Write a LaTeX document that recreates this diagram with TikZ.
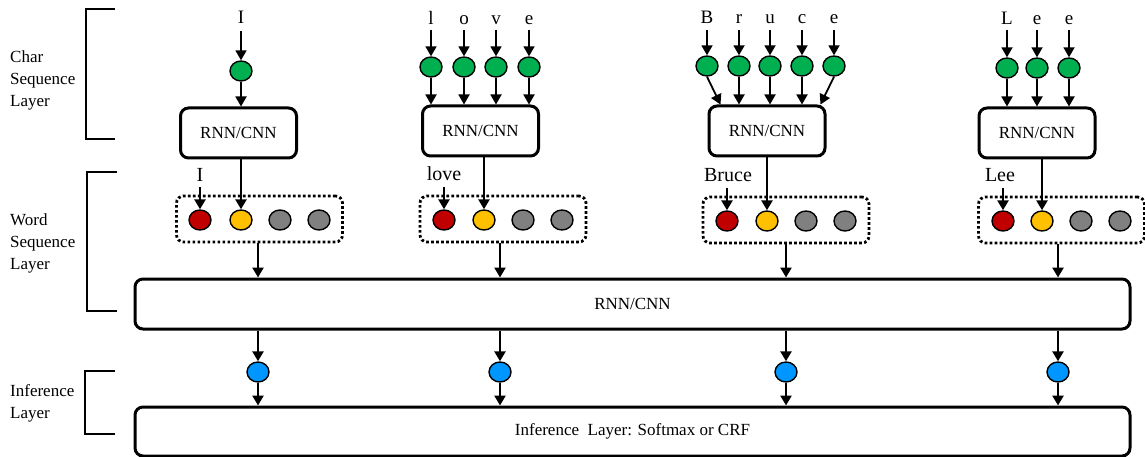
\documentclass[tikz,border=0pt]{standalone}
\usepackage{fontspec}
\setmainfont{Liberation Serif}
\usetikzlibrary{arrows.meta,calc,shapes.geometric}
\definecolor{cgreen}{RGB}{0,176,80}
\definecolor{cred}{RGB}{192,0,0}
\definecolor{cyellow}{RGB}{255,192,0}
\definecolor{cgray}{RGB}{128,128,128}
\definecolor{cblue}{RGB}{0,150,255}
\tikzset{
  dotnode/.style={ellipse, draw, line width=1.4pt, minimum width=22pt, minimum height=20pt, inner sep=0pt},
  gdot/.style={dotnode, fill=cgreen},
  rdot/.style={dotnode, fill=cred},
  ydot/.style={dotnode, fill=cyellow},
  grdot/.style={dotnode, fill=cgray},
  bdot/.style={dotnode, fill=cblue},
  rbox/.style={draw, rounded corners=8pt, line width=3pt, minimum width=116pt, minimum height=50pt, inner sep=0pt, font=\fontsize{17}{20}\selectfont},
  bigbox/.style={rbox, minimum width=995pt},
  dbox/.style={draw, dash pattern=on 2.6pt off 2.4pt, line width=2.8pt, rounded corners=7pt, minimum width=166pt, minimum height=46pt, inner sep=0pt},
  tarr/.style={-{Triangle[length=10pt,width=11pt]}, line width=1.8pt},
  karr/.style={-{Triangle[length=10pt,width=11pt]}, line width=2.8pt},
  ch/.style={font=\fontsize{19}{20}\selectfont, anchor=base, inner sep=0pt},
  wl/.style={font=\fontsize{20}{20}\selectfont, anchor=base, inner sep=0pt},
  lbl/.style={font=\fontsize{17}{22}\selectfont, align=left, anchor=west, inner sep=0pt},
  brk/.style={line width=1.5pt}
}
\begin{document}
\begin{tikzpicture}[x=1pt,y=-1pt]
\useasboundingbox (0,0) rectangle (1145,457);
% layer labels and brackets
\node[lbl] (lchar) at (10,80) {Char\\Sequence\\Layer};
\node[lbl] (lword) at (10,243) {Word\\Sequence\\Layer};
\node[lbl] (linf) at (10,403) {Inference\\Layer};
\draw[brk] (115,9) -- (86,9) -- (86,139) -- (115,139);
\draw[brk] (117,172) -- (87,172) -- (87,311) -- (117,311);
\draw[brk] (115,371) -- (85,371) -- (85,434) -- (115,434);

% big boxes
\node[bigbox] (big) at (632.5,304) {RNN/CNN};
\node[bigbox, minimum height=49pt] (inf) at (632.5,431.5) {Inference\ \ Layer: Softmax or CRF};

% ---------- group 1: I
\node[ch] (c1-1) at (241,24) {I};
\node[gdot] (g1-1) at (241,71) {};
\node[rbox] (box1) at (238.5,133) {RNN/CNN};
\draw[tarr, shorten <=7pt] (c1-1.south) -- (g1-1.north);
\draw[tarr] (g1-1.south) -- (g1-1 |- box1.north);
\node[dbox] (d1) at (259.5,219) {};
\node[rdot] (r1) at (200,220) {};
\node[ydot] (y1) at (241,220) {};
\node[grdot] (ga1) at (280,220) {};
\node[grdot] (gb1) at (319,220) {};
\node[wl] (w1) at (200,182) {I};
\draw[karr, shorten <=5pt] (w1.south) -- (r1.north);
\draw[karr] (y1 |- box1.south) -- (y1.north);
\node[bdot] (b1) at (258,372) {};
\draw[karr] (b1 |- d1.south) -- (b1 |- big.north);
\draw[karr] (b1 |- big.south) -- (b1.north);
\draw[karr] (b1.south) -- (b1 |- inf.north);

% ---------- group 2: love
\foreach \x/\t [count=\i] in {431/l,464/o,496/v,529/e}{
  \node[ch] (c2-\i) at (\x,25) {\t};
  \node[gdot] (g2-\i) at (\x,67) {};
  \draw[tarr] (c2-\i.base) ++(0,5) -- (g2-\i.north);
}
\node[rbox] (box2) at (480.5,131) {RNN/CNN};
\foreach \i in {1,...,4}{\draw[tarr] (g2-\i.south) -- (g2-\i |- box2.north);}
\node[dbox] (d2) at (503,219) {};
\node[rdot] (r2) at (444,220) {};
\node[ydot] (y2) at (484,220) {};
\node[grdot] (ga2) at (523,220) {};
\node[grdot] (gb2) at (562,220) {};
\node[wl] (w2) at (444,181) {love};
\draw[karr] (r2 |- w2.base) ++(0,6) -- (r2.north);
\draw[karr] (y2 |- box2.south) -- (y2.north);
\node[bdot] (b2) at (500,372) {};
\draw[karr] (b2 |- d2.south) -- (b2 |- big.north);
\draw[karr] (b2 |- big.south) -- (b2.north);
\draw[karr] (b2.south) -- (b2 |- inf.north);

% ---------- group 3: Bruce
\foreach \x/\t [count=\i] in {707/B,739/r,770/u,802/c,834/e}{
  \node[ch] (c3-\i) at (\x,24) {\t};
  \node[gdot] (g3-\i) at (\x,66) {};
  \draw[tarr] (c3-\i.base) ++(0,6) -- (g3-\i.north);
}
\node[rbox] (box3) at (767,131) {RNN/CNN};
\coordinate (e3-1) at ($(box3.north west)+(13,0)$);
\coordinate (e3-5) at ($(box3.north east)+(-6,0)$);
\draw[tarr] (g3-1.south) -- (e3-1);
\foreach \i in {2,3,4}{\draw[tarr] (g3-\i.south) -- (g3-\i |- box3.north);}
\draw[tarr] (g3-5.south) -- (e3-5);
\node[dbox] (d3) at (786,220) {};
\node[rdot] (r3) at (727,221) {};
\node[ydot] (y3) at (767,221) {};
\node[grdot] (ga3) at (806,221) {};
\node[grdot] (gb3) at (845,221) {};
\node[wl] (w3) at (728,182) {Bruce};
\draw[karr] (r3 |- w3.base) ++(0,6) -- (r3.north);
\draw[karr] (y3 |- box3.south) -- (y3.north);
\node[bdot] (b3) at (786,372) {};
\draw[karr] (b3 |- d3.south) -- (b3 |- big.north);
\draw[karr] (b3 |- big.south) -- (b3.north);
\draw[karr] (b3.south) -- (b3 |- inf.north);

% ---------- group 4: Lee
\foreach \x/\t [count=\i] in {1007/L,1037/e,1069/e}{
  \node[ch] (c4-\i) at (\x,25) {\t};
  \node[gdot] (g4-\i) at (\x,68) {};
  \draw[tarr] (c4-\i.base) ++(0,5) -- (g4-\i.north);
}
\node[rbox] (box4) at (1037,133) {RNN/CNN};
\foreach \i in {1,2,3}{\draw[tarr] (g4-\i.south) -- (g4-\i |- box4.north);}
\node[dbox] (d4) at (1061.5,220) {};
\node[rdot] (r4) at (1003,221) {};
\node[ydot] (y4) at (1042,221) {};
\node[grdot] (ga4) at (1081,221) {};
\node[grdot] (gb4) at (1120,221) {};
\node[wl] (w4) at (1000,182) {Lee};
\draw[karr] (r4 |- w4.base) ++(0,6) -- (r4.north);
\draw[karr] (y4 |- box4.south) -- (y4.north);
\node[bdot] (b4) at (1058,372) {};
\draw[karr] (b4 |- d4.south) -- (b4 |- big.north);
\draw[karr] (b4 |- big.south) -- (b4.north);
\draw[karr] (b4.south) -- (b4 |- inf.north);
\end{tikzpicture}
\end{document}
